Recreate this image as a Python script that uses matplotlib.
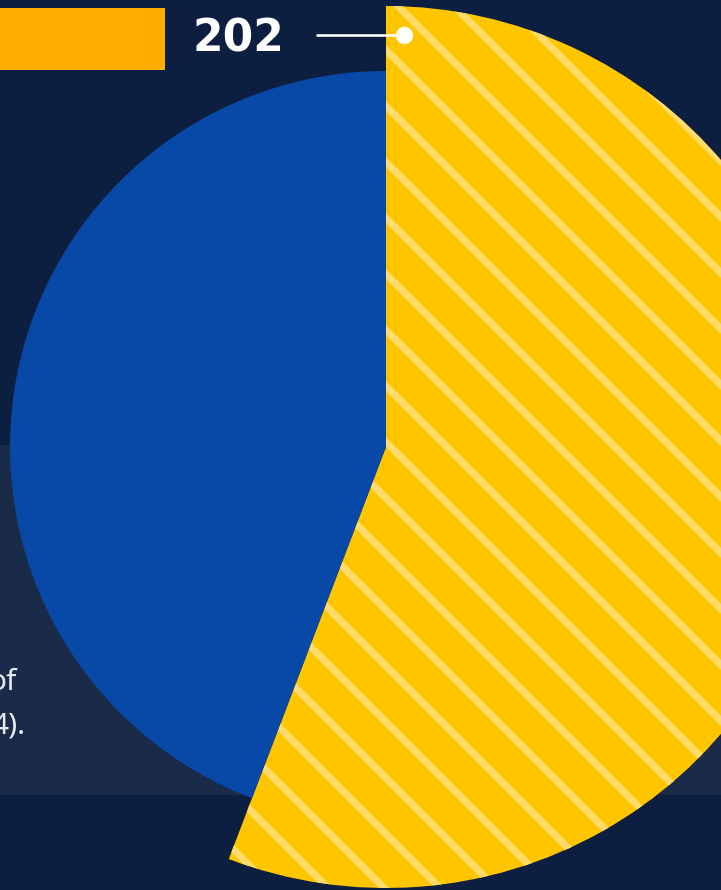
import matplotlib
matplotlib.use('Agg')
import matplotlib.pyplot as plt

# slice values (yellow first, going clockwise from 12 o'clock)
values = [202, 160]
slice_colors = ['#ffc600', '#0849a8']
stripe_color = '#ffda6c'
bg_color = '#0d1f40'
band_color = '#1a2b4a'
legend_color = '#ffae00'
text_lines = ['of', '4).']

W, H = 721, 890
DPI = 336  # hatch spacing depends on dpi

plt.rcParams['hatch.linewidth'] = 1.5

fig = plt.figure(figsize=(W / DPI, H / DPI), dpi=DPI)
fig.patch.set_facecolor(bg_color)
ax = fig.add_axes([0, 0, 1, 1])
ax.set_facecolor(bg_color)

# lighter band behind the lower half
ax.axhspan(H - 795, H - 445, color=band_color, lw=0, zorder=0)
# legend swatch in the top left corner
ax.axhspan(H - 70, H - 8, xmin=0, xmax=165 / W, color=legend_color, lw=0, zorder=1)

cx, cy = 386, H - 447
wedges, _ = ax.pie(values, colors=slice_colors, startangle=90, counterclock=False,
                   center=(cx, cy), radius=441,
                   wedgeprops=dict(linewidth=0))
wedges[0].set_hatch('\\\\')
wedges[0].set_edgecolor(stripe_color)
wedges[0].set_linewidth(0)
wedges[1].set_radius(376)
for w in wedges:
    w.set_zorder(2)

# callout for the first slice
ax.plot([316, cx + 18], [H - 35, H - 35], color='white', lw=0.55, zorder=3,
        solid_capstyle='butt')
ax.plot([cx + 18], [H - 35], 'o', color='white', ms=3.7, mec='none', zorder=4)
ax.text(238, H - 39, str(values[0]), color='white', fontsize=9.4, fontweight='bold',
        ha='center', va='center', zorder=4)

# cut-off caption text on the left
ax.text(17, H - 690, text_lines[0], color='#e6e9ef', fontsize=6.4,
        family='Noto Sans', ha='right', va='baseline', zorder=3)
ax.text(25, H - 733, text_lines[1], color='#e6e9ef', fontsize=6.4,
        family='Noto Sans', ha='right', va='baseline', zorder=3)

ax.set_xlim(0, W)
ax.set_ylim(0, H)
ax.set_aspect('auto')
ax.axis('off')

fig.savefig('out.png', dpi=DPI, facecolor=bg_color)
